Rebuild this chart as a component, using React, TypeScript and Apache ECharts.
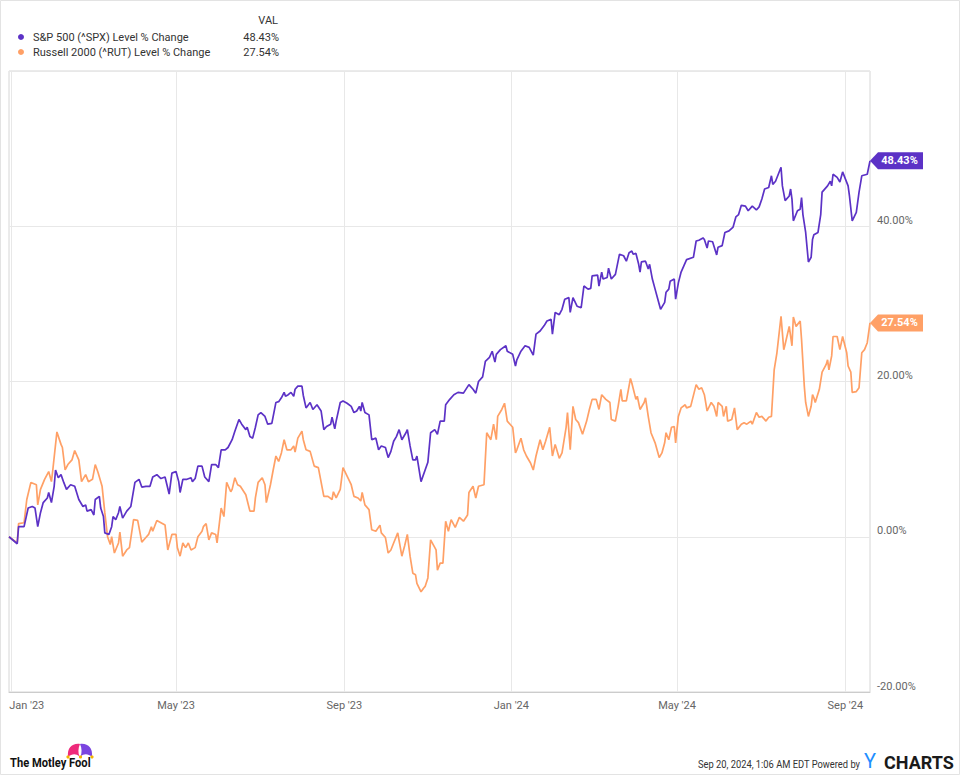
import React, { useEffect, useRef } from "react";
import * as echarts from "echarts";

const seriesNames = ["S&P 500 (^SPX) Level % Change", "Russell 2000 (^RUT) Level % Change"];
const seriesColors = ["#5c32c6", "#ffa066"];

const spx: [string, number][] = [
  ["2022-12-30", 0], ["2023-01-05", -0.9], ["2023-01-06", 1.3], ["2023-01-10", 1.3], ["2023-01-13", 3.7], ["2023-01-16", 3.9],
  ["2023-01-18", 3.7], ["2023-01-20", 1.3], ["2023-01-22", 3.1], ["2023-01-24", 4.4], ["2023-01-27", 5.0], ["2023-01-28", 5.7],
  ["2023-01-30", 4.4], ["2023-02-01", 6.5], ["2023-02-02", 8.6], ["2023-02-04", 7.6], ["2023-02-06", 8.0], ["2023-02-08", 7.0],
  ["2023-02-10", 6.1], ["2023-02-13", 6.7], ["2023-02-16", 6.5], ["2023-02-19", 4.8], ["2023-02-22", 3.9], ["2023-02-24", 4.1],
  ["2023-02-25", 3.3], ["2023-02-28", 3.5], ["2023-03-02", 2.8], ["2023-03-03", 4.8], ["2023-03-06", 5.2], ["2023-03-07", 3.7],
  ["2023-03-09", 2.6], ["2023-03-10", 0.5], ["2023-03-13", 0.3], ["2023-03-15", 1.3], ["2023-03-16", 2.6], ["2023-03-18", 2.2],
  ["2023-03-20", 3.1], ["2023-03-21", 3.9], ["2023-03-23", 2.4], ["2023-03-26", 3.3], ["2023-03-29", 3.9], ["2023-04-01", 7.0],
  ["2023-04-04", 7.4], ["2023-04-06", 6.4], ["2023-04-09", 6.5], ["2023-04-12", 6.5], ["2023-04-14", 7.7], ["2023-04-17", 8.0],
  ["2023-04-20", 7.5], ["2023-04-23", 7.7], ["2023-04-26", 5.5], ["2023-04-28", 8.2], ["2023-05-01", 8.4], ["2023-05-03", 7.1],
  ["2023-05-04", 5.7], ["2023-05-06", 7.4], ["2023-05-09", 7.4], ["2023-05-12", 7.6], ["2023-05-13", 7.1], ["2023-05-15", 7.5],
  ["2023-05-17", 9.1], ["2023-05-20", 9.1], ["2023-05-22", 7.7], ["2023-05-25", 7.1], ["2023-05-27", 9.3], ["2023-05-30", 9.3],
  ["2023-06-01", 8.9], ["2023-06-03", 11.2], ["2023-06-06", 11.2], ["2023-06-08", 11.5], ["2023-06-11", 12.5], ["2023-06-13", 13.6],
  ["2023-06-16", 15.1], ["2023-06-18", 14.5], ["2023-06-21", 13.8], ["2023-06-22", 14.1], ["2023-06-24", 12.9], ["2023-06-26", 12.7],
  ["2023-06-28", 14.1], ["2023-06-30", 15.7], ["2023-07-02", 16.0], ["2023-07-05", 15.5], ["2023-07-07", 14.5], ["2023-07-10", 14.6],
  ["2023-07-13", 17.3], ["2023-07-15", 17.4], ["2023-07-17", 17.9], ["2023-07-19", 18.6], ["2023-07-20", 18.1], ["2023-07-22", 18.3],
  ["2023-07-24", 18.6], ["2023-07-26", 18.1], ["2023-07-27", 19.0], ["2023-07-29", 19.4], ["2023-08-01", 19.4], ["2023-08-02", 18.2],
  ["2023-08-04", 16.6], ["2023-08-07", 17.3], ["2023-08-09", 16.4], ["2023-08-12", 17.0], ["2023-08-15", 16.2], ["2023-08-17", 13.8],
  ["2023-08-19", 14.2], ["2023-08-22", 14.5], ["2023-08-23", 15.4], ["2023-08-25", 13.9], ["2023-08-26", 14.9], ["2023-08-29", 17.3],
  ["2023-08-31", 17.5], ["2023-09-03", 17.2], ["2023-09-06", 16.8], ["2023-09-08", 16.0], ["2023-09-10", 16.2], ["2023-09-12", 16.8],
  ["2023-09-13", 16.2], ["2023-09-14", 17.3], ["2023-09-16", 16.0], ["2023-09-19", 15.7], ["2023-09-21", 12.5], ["2023-09-24", 12.7],
  ["2023-09-26", 11.2], ["2023-09-28", 11.7], ["2023-10-01", 11.5], ["2023-10-03", 10.2], ["2023-10-05", 11.0], ["2023-10-07", 12.3],
  ["2023-10-09", 12.9], ["2023-10-11", 13.8], ["2023-10-13", 12.5], ["2023-10-16", 13.4], ["2023-10-17", 13.8], ["2023-10-19", 11.7],
  ["2023-10-21", 9.9], ["2023-10-23", 9.9], ["2023-10-24", 10.4], ["2023-10-27", 7.1], ["2023-10-30", 8.6], ["2023-11-01", 9.6],
  ["2023-11-03", 13.4], ["2023-11-06", 13.8], ["2023-11-08", 13.2], ["2023-11-10", 14.9], ["2023-11-13", 14.9], ["2023-11-14", 17.0],
  ["2023-11-17", 17.7], ["2023-11-20", 18.3], ["2023-11-23", 18.6], ["2023-11-27", 18.5], ["2023-12-01", 19.6], ["2023-12-04", 19.0],
  ["2023-12-06", 18.5], ["2023-12-08", 20.0], ["2023-12-11", 20.6], ["2023-12-13", 22.6], ["2023-12-16", 23.1], ["2023-12-18", 23.9],
  ["2023-12-20", 22.5], ["2023-12-21", 23.5], ["2023-12-24", 24.1], ["2023-12-28", 24.6], ["2023-12-29", 23.9], ["2024-01-02", 23.5],
  ["2024-01-04", 22.0], ["2024-01-05", 22.8], ["2024-01-08", 23.9], ["2024-01-11", 24.6], ["2024-01-14", 24.4], ["2024-01-17", 23.4],
  ["2024-01-19", 26.1], ["2024-01-22", 26.5], ["2024-01-25", 27.2], ["2024-01-27", 27.8], ["2024-01-30", 28.0], ["2024-01-31", 26.1],
  ["2024-02-02", 28.9], ["2024-02-05", 28.6], ["2024-02-07", 29.3], ["2024-02-09", 30.6], ["2024-02-12", 30.8], ["2024-02-13", 28.9],
  ["2024-02-15", 30.8], ["2024-02-18", 29.7], ["2024-02-21", 29.5], ["2024-02-23", 32.3], ["2024-02-26", 31.9], ["2024-02-28", 32.0],
  ["2024-02-29", 33.6], ["2024-03-04", 33.7], ["2024-03-05", 32.3], ["2024-03-07", 34.1], ["2024-03-08", 33.2], ["2024-03-11", 33.4],
  ["2024-03-12", 34.6], ["2024-03-14", 33.2], ["2024-03-17", 33.8], ["2024-03-20", 36.4], ["2024-03-23", 36.2], ["2024-03-25", 35.5],
  ["2024-03-27", 36.6], ["2024-03-29", 36.8], ["2024-03-30", 36.4], ["2024-04-01", 36.5], ["2024-04-03", 35.1], ["2024-04-04", 34.1],
  ["2024-04-05", 35.4], ["2024-04-08", 35.5], ["2024-04-10", 34.5], ["2024-04-11", 35.1], ["2024-04-13", 33.2], ["2024-04-15", 31.9],
  ["2024-04-17", 30.6], ["2024-04-19", 29.3], ["2024-04-22", 30.2], ["2024-04-23", 31.5], ["2024-04-25", 31.9], ["2024-04-26", 32.9],
  ["2024-04-29", 33.2], ["2024-04-30", 30.6], ["2024-05-02", 32.7], ["2024-05-04", 34.1], ["2024-05-06", 34.9], ["2024-05-08", 35.7],
  ["2024-05-13", 36.0], ["2024-05-15", 38.1], ["2024-05-17", 38.2], ["2024-05-20", 38.5], ["2024-05-21", 38.3], ["2024-05-23", 37.2],
  ["2024-05-24", 38.1], ["2024-05-27", 38.0], ["2024-05-30", 36.3], ["2024-05-31", 37.3], ["2024-06-03", 37.5], ["2024-06-05", 39.2],
  ["2024-06-08", 39.4], ["2024-06-11", 39.9], ["2024-06-13", 41.2], ["2024-06-15", 41.5], ["2024-06-17", 42.7], ["2024-06-20", 42.6],
  ["2024-06-22", 42.0], ["2024-06-25", 42.6], ["2024-06-28", 42.1], ["2024-06-30", 42.5], ["2024-07-02", 43.5], ["2024-07-04", 44.8],
  ["2024-07-07", 45.0], ["2024-07-09", 46.5], ["2024-07-10", 45.4], ["2024-07-12", 45.8], ["2024-07-14", 46.7], ["2024-07-16", 47.6],
  ["2024-07-17", 45.2], ["2024-07-19", 43.3], ["2024-07-22", 43.9], ["2024-07-23", 44.8], ["2024-07-24", 43.5], ["2024-07-25", 40.7],
  ["2024-07-28", 42.0], ["2024-07-30", 42.2], ["2024-07-31", 43.7], ["2024-08-01", 41.5], ["2024-08-03", 39.2], ["2024-08-05", 35.4],
  ["2024-08-07", 36.0], ["2024-08-08", 38.3], ["2024-08-09", 38.9], ["2024-08-12", 39.2], ["2024-08-14", 41.5], ["2024-08-15", 44.4],
  ["2024-08-19", 45.2], ["2024-08-21", 45.8], ["2024-08-22", 45.2], ["2024-08-23", 46.7], ["2024-08-26", 46.3], ["2024-08-28", 45.7],
  ["2024-08-30", 47.0], ["2024-09-03", 45.2], ["2024-09-04", 43.9], ["2024-09-06", 40.7], ["2024-09-09", 41.8], ["2024-09-11", 44.4],
  ["2024-09-13", 46.5], ["2024-09-17", 46.7], ["2024-09-19", 48.43],
];

const rut: [string, number][] = [
  ["2022-12-30", 0], ["2023-01-05", -0.8], ["2023-01-06", 1.7], ["2023-01-10", 1.8], ["2023-01-12", 4.8], ["2023-01-15", 7.0],
  ["2023-01-19", 6.7], ["2023-01-20", 4.1], ["2023-01-22", 6.1], ["2023-01-25", 7.4], ["2023-01-28", 8.4], ["2023-01-30", 7.1],
  ["2023-01-31", 8.6], ["2023-02-03", 13.5], ["2023-02-06", 11.9], ["2023-02-07", 11.5], ["2023-02-09", 8.6], ["2023-02-11", 9.3],
  ["2023-02-14", 9.9], ["2023-02-16", 11.1], ["2023-02-19", 9.9], ["2023-02-21", 7.1], ["2023-02-24", 8.0], ["2023-02-26", 7.1],
  ["2023-03-01", 7.4], ["2023-03-03", 9.3], ["2023-03-05", 8.3], ["2023-03-08", 6.5], ["2023-03-10", 3.1], ["2023-03-12", 0.0],
  ["2023-03-14", -1.0], ["2023-03-15", 0.0], ["2023-03-17", -2.1], ["2023-03-20", -0.8], ["2023-03-21", 0.6], ["2023-03-23", -2.5],
  ["2023-03-26", -1.7], ["2023-03-28", -1.4], ["2023-03-31", 2.2], ["2023-04-03", 2.1], ["2023-04-06", -0.7], ["2023-04-09", -0.1],
  ["2023-04-11", 0.3], ["2023-04-13", 1.3], ["2023-04-14", 0.7], ["2023-04-17", 2.1], ["2023-04-20", 1.8], ["2023-04-23", 1.5],
  ["2023-04-25", -1.7], ["2023-04-28", 0.3], ["2023-05-01", 0.3], ["2023-05-02", -1.4], ["2023-05-04", -2.5], ["2023-05-06", -0.8],
  ["2023-05-08", -1.4], ["2023-05-10", -0.8], ["2023-05-12", -1.7], ["2023-05-15", -1.4], ["2023-05-17", 0.0], ["2023-05-20", 0.7],
  ["2023-05-21", 1.3], ["2023-05-23", 1.7], ["2023-05-25", -0.4], ["2023-05-27", 0.5], ["2023-05-30", 0.3], ["2023-05-31", -0.8],
  ["2023-06-03", 3.7], ["2023-06-05", 2.6], ["2023-06-07", 7.0], ["2023-06-10", 5.8], ["2023-06-11", 6.1], ["2023-06-13", 7.6],
  ["2023-06-15", 6.7], ["2023-06-17", 6.5], ["2023-06-21", 5.4], ["2023-06-24", 3.3], ["2023-06-27", 3.3], ["2023-06-28", 5.0],
  ["2023-06-30", 7.0], ["2023-07-03", 7.6], ["2023-07-05", 6.7], ["2023-07-06", 4.4], ["2023-07-09", 6.7], ["2023-07-11", 8.6],
  ["2023-07-13", 10.4], ["2023-07-15", 9.7], ["2023-07-17", 10.8], ["2023-07-19", 12.5], ["2023-07-21", 11.2], ["2023-07-24", 11.2],
  ["2023-07-26", 11.7], ["2023-07-27", 10.9], ["2023-07-29", 12.7], ["2023-08-01", 13.6], ["2023-08-02", 12.5], ["2023-08-04", 11.2],
  ["2023-08-07", 11.0], ["2023-08-10", 9.1], ["2023-08-13", 8.9], ["2023-08-17", 5.2], ["2023-08-20", 5.2], ["2023-08-23", 4.8],
  ["2023-08-24", 5.8], ["2023-08-26", 5.0], ["2023-08-29", 6.1], ["2023-08-31", 8.9], ["2023-09-03", 7.8], ["2023-09-06", 6.7],
  ["2023-09-08", 5.2], ["2023-09-11", 5.0], ["2023-09-13", 4.6], ["2023-09-14", 5.7], ["2023-09-16", 4.1], ["2023-09-19", 3.5],
  ["2023-09-21", 0.9], ["2023-09-24", 0.7], ["2023-09-27", 1.5], ["2023-09-28", 0.5], ["2023-10-01", -0.1], ["2023-10-03", -2.1],
  ["2023-10-05", -1.7], ["2023-10-07", -0.8], ["2023-10-10", 0.5], ["2023-10-13", -2.5], ["2023-10-15", -1.2], ["2023-10-17", 0.3],
  ["2023-10-19", -2.5], ["2023-10-21", -4.7], ["2023-10-23", -4.9], ["2023-10-24", -6.0], ["2023-10-27", -7.1], ["2023-10-29", -6.6],
  ["2023-10-30", -6.4], ["2023-11-01", -5.3], ["2023-11-03", -0.4], ["2023-11-07", -1.7], ["2023-11-08", -4.3], ["2023-11-10", -3.4],
  ["2023-11-12", -3.4], ["2023-11-14", 2.0], ["2023-11-16", 0.7], ["2023-11-18", 2.2], ["2023-11-21", 1.2], ["2023-11-24", 2.5],
  ["2023-11-27", 2.0], ["2023-11-30", 2.8], ["2023-12-01", 5.7], ["2023-12-04", 6.5], ["2023-12-06", 5.0], ["2023-12-08", 6.5],
  ["2023-12-12", 6.7], ["2023-12-14", 13.4], ["2023-12-17", 12.5], ["2023-12-19", 14.5], ["2023-12-21", 12.5], ["2023-12-22", 15.5],
  ["2023-12-25", 16.4], ["2023-12-27", 17.2], ["2023-12-29", 14.9], ["2024-01-02", 14.1], ["2024-01-04", 10.8], ["2024-01-05", 11.2],
  ["2024-01-08", 12.7], ["2024-01-10", 11.2], ["2024-01-12", 10.4], ["2024-01-15", 9.5], ["2024-01-17", 8.6], ["2024-01-19", 10.4],
  ["2024-01-22", 12.5], ["2024-01-24", 11.2], ["2024-01-26", 12.3], ["2024-01-29", 14.1], ["2024-01-31", 10.4], ["2024-02-02", 11.9],
  ["2024-02-05", 10.1], ["2024-02-07", 10.8], ["2024-02-10", 14.1], ["2024-02-11", 16.0], ["2024-02-13", 11.2], ["2024-02-15", 16.8],
  ["2024-02-17", 15.1], ["2024-02-19", 14.7], ["2024-02-22", 13.2], ["2024-02-25", 14.9], ["2024-02-27", 16.4], ["2024-02-29", 17.7],
  ["2024-03-03", 17.7], ["2024-03-05", 16.4], ["2024-03-07", 18.3], ["2024-03-10", 17.7], ["2024-03-13", 17.3], ["2024-03-14", 15.1],
  ["2024-03-17", 14.9], ["2024-03-19", 16.8], ["2024-03-21", 19.0], ["2024-03-22", 17.5], ["2024-03-25", 17.5], ["2024-03-28", 20.4],
  ["2024-03-29", 19.8], ["2024-04-01", 17.7], ["2024-04-02", 18.1], ["2024-04-04", 16.4], ["2024-04-07", 17.3], ["2024-04-08", 17.9],
  ["2024-04-10", 15.5], ["2024-04-12", 13.4], ["2024-04-15", 12.1], ["2024-04-18", 10.2], ["2024-04-20", 10.8], ["2024-04-22", 12.1],
  ["2024-04-23", 13.4], ["2024-04-25", 12.5], ["2024-04-27", 14.1], ["2024-04-29", 14.2], ["2024-04-30", 12.1], ["2024-05-02", 15.5],
  ["2024-05-04", 16.6], ["2024-05-07", 17.0], ["2024-05-08", 16.6], ["2024-05-11", 16.8], ["2024-05-15", 19.6], ["2024-05-17", 19.0],
  ["2024-05-19", 19.2], ["2024-05-21", 18.3], ["2024-05-23", 16.2], ["2024-05-26", 17.3], ["2024-05-28", 16.8], ["2024-05-30", 15.5],
  ["2024-05-31", 17.3], ["2024-06-03", 16.8], ["2024-06-04", 15.5], ["2024-06-06", 16.8], ["2024-06-07", 14.9], ["2024-06-10", 15.1],
  ["2024-06-12", 16.6], ["2024-06-14", 13.8], ["2024-06-17", 14.5], ["2024-06-19", 14.7], ["2024-06-21", 14.5], ["2024-06-24", 14.9],
  ["2024-06-25", 14.5], ["2024-06-28", 16.0], ["2024-06-30", 15.4], ["2024-07-02", 15.5], ["2024-07-05", 14.9], ["2024-07-07", 15.4],
  ["2024-07-09", 15.5], ["2024-07-11", 21.5], ["2024-07-13", 23.7], ["2024-07-16", 28.4], ["2024-07-18", 24.1], ["2024-07-19", 24.8],
  ["2024-07-22", 27.1], ["2024-07-24", 24.6], ["2024-07-25", 28.3], ["2024-07-27", 27.1], ["2024-07-30", 27.8], ["2024-07-31", 25.4],
  ["2024-08-02", 19.4], ["2024-08-03", 17.3], ["2024-08-05", 15.5], ["2024-08-07", 16.8], ["2024-08-08", 18.3], ["2024-08-09", 17.9],
  ["2024-08-10", 17.3], ["2024-08-13", 19.0], ["2024-08-15", 21.2], ["2024-08-18", 22.2], ["2024-08-19", 22.8], ["2024-08-20", 21.5],
  ["2024-08-22", 23.3], ["2024-08-23", 25.8], ["2024-08-26", 25.8], ["2024-08-28", 24.1], ["2024-08-30", 25.8], ["2024-09-02", 23.7],
  ["2024-09-03", 22.0], ["2024-09-05", 21.2], ["2024-09-06", 18.6], ["2024-09-09", 18.7], ["2024-09-11", 19.2], ["2024-09-13", 23.7],
  ["2024-09-15", 24.1], ["2024-09-17", 25.0], ["2024-09-19", 27.54],
];

const xTickDates = ["2023-01-01", "2023-05-01", "2023-09-01", "2024-01-01", "2024-05-01", "2024-09-01"];
const yTicks = [-20, 0, 20, 40, 60];
const monthNames = ["Jan", "Feb", "Mar", "Apr", "May", "Jun", "Jul", "Aug", "Sep", "Oct", "Nov", "Dec"];
const footerStamp = "Sep 20, 2024, 1:06 AM EDT Powered by";

const parseDate = (s: string) => {
  const [y, m, d] = s.split("-").map(Number);
  return Date.UTC(y, m - 1, d);
};
const pct = (v: number) => v.toFixed(2) + "%";

echarts.graphic.registerShape(
  "hatLeft",
  echarts.graphic.extendPath("M1,14 C0,5 5,0 13,1 C11,5 11,10 12.5,13.5 C9,10.5 5,10.5 1,14 Z", {})
);
echarts.graphic.registerShape(
  "hatRight",
  echarts.graphic.extendPath("M25,14 C26,5 21,0 13,1 C15,5 15,10 13.5,13.5 C17,10.5 21,10.5 25,14 Z", {})
);

export default function App() {
  const ref = useRef<HTMLDivElement>(null);
  useEffect(() => {
    if (!ref.current) return;
    const chart = echarts.init(ref.current, undefined, { renderer: "svg" });
    const datasets = [spx, rut].map((d) => d.map(([s, v]) => [parseDate(s), v] as [number, number]));
    const lastVals = datasets.map((d) => d[d.length - 1][1]);
    const tickValues = xTickDates.map(parseDate);
    const firstTick = tickValues[0];
    const font = "Roboto, 'Noto Sans', sans-serif";

    chart.setOption({
      animation: false,
      textStyle: { fontFamily: font },
      grid: {
        left: 9,
        right: 90,
        top: 71,
        bottom: 83,
        show: true,
        borderColor: "#d6d6d6",
        borderWidth: 1,
        containLabel: false,
      },
      legend: {
        orient: "vertical",
        left: 13,
        top: 25,
        icon: "circle",
        itemWidth: 14,
        itemHeight: 6,
        itemGap: 1,
        selectedMode: false,
        data: seriesNames,
        textStyle: {
          fontFamily: font,
          fontSize: 11,
          color: "#333",
          lineHeight: 14,
          rich: {
            n: { width: 206, fontSize: 11, color: "#333", fontFamily: font, lineHeight: 14 },
            v: { width: 40, align: "right", fontSize: 11, color: "#333", fontFamily: font, lineHeight: 14 },
          },
        },
        formatter: (name: string) => {
          const i = seriesNames.indexOf(name);
          return `{n|${name}}{v|${pct(lastVals[i])}}`;
        },
      },
      xAxis: {
        type: "value",
        min: "dataMin",
        max: "dataMax",
        axisLine: { show: true, onZero: false, lineStyle: { color: "#cccccc" } },
        axisTick: { show: false, customValues: tickValues },
        splitLine: { show: true, lineStyle: { color: "#e8e8e8", width: 1 } },
        axisLabel: {
          customValues: tickValues,
          color: "#666",
          fontSize: 11,
          margin: 8,
          fontFamily: font,
          formatter: (v: number) => {
            const d = new Date(v);
            const txt = `${monthNames[d.getUTCMonth()]} '${String(d.getUTCFullYear()).slice(2)}`;
            return v === firstTick ? `{first|${txt}}` : txt;
          },
          rich: { first: { padding: [0, 0, 0, 30], fontSize: 11, color: "#666", fontFamily: font } },
        },
      },
      yAxis: {
        type: "value",
        position: "right",
        min: yTicks[0],
        max: yTicks[yTicks.length - 1],
        interval: 20,
        axisLine: { show: false },
        axisTick: { show: false },
        splitLine: { show: true, lineStyle: { color: "#e8e8e8" } },
        axisLabel: {
          color: "#666",
          fontSize: 11,
          margin: 7,
          fontFamily: font,
          verticalAlign: "bottom",
          lineHeight: 12,
          formatter: (v: number) => (v === yTicks[yTicks.length - 1] ? "" : pct(v)),
        },
      },
      series: datasets.map((data, i) => ({
        name: seriesNames[i],
        type: "line",
        data,
        showSymbol: false,
        symbol: "circle",
        z: 3 - i,
        lineStyle: { color: seriesColors[i], width: 1.7 },
        itemStyle: { color: seriesColors[i] },
        markPoint: {
          silent: true,
          symbol: "path://M0,9 L8,0 L53,0 L53,18 L8,18 Z",
          symbolSize: [53, 17],
          symbolOffset: ["50%", 0],
          itemStyle: { color: seriesColors[i] },
          label: {
            show: true,
            position: "inside",
            offset: [3, 0],
            color: "#fff",
            fontWeight: "bold",
            fontSize: 11,
            fontFamily: font,
            formatter: () => pct(lastVals[i]),
          },
          data: [{ coord: data[data.length - 1] }],
        },
      })),
      graphic: [
        {
          type: "rect",
          silent: true,
          shape: { x: 0.5, y: 0.5, width: 959, height: 774 },
          style: { fill: "none", stroke: "#e3e3e3", lineWidth: 1 },
        },
        {
          type: "text",
          x: 278,
          y: 20,
          style: { text: "VAL", fill: "#333", font: `11px ${font}`, align: "right", verticalAlign: "middle" },
        },
        {
          type: "text",
          x: 10,
          y: 763,
          scaleX: 0.93,
          style: {
            text: "The Motley Fool",
            fill: "#111",
            font: `bold 12px ${font}`,
            align: "left",
            verticalAlign: "middle",
          },
        },
        { type: "hatLeft", x: 67, y: 743, style: { fill: "#ee2a7b" } },
        { type: "hatRight", x: 67, y: 743, style: { fill: "#7b45e0" } },
        { type: "circle", shape: { cx: 68, cy: 757, r: 1.6 }, style: { fill: "#f5b400" } },
        { type: "circle", shape: { cx: 80.5, cy: 757, r: 1.6 }, style: { fill: "#f5b400" } },
        { type: "circle", shape: { cx: 92, cy: 757, r: 1.6 }, style: { fill: "#f5b400" } },
        {
          type: "text",
          x: 860,
          y: 764,
          scaleX: 0.85,
          style: { text: footerStamp, fill: "#333", font: `11px ${font}`, align: "right", verticalAlign: "middle" },
        },
        {
          type: "text",
          x: 864,
          y: 761,
          style: { text: "Y", fill: "#1f8fff", font: `20px ${font}`, align: "left", verticalAlign: "middle" },
        },
        {
          type: "text",
          x: 884,
          y: 762,
          style: { text: "CHARTS", fill: "#1a1a1a", font: `bold 18px ${font}`, align: "left", verticalAlign: "middle" },
        },
      ],
    });
    return () => chart.dispose();
  }, []);
  return (
    <div
      ref={ref}
      style={{ position: "absolute", left: 0, top: 0, width: 960, height: 775, background: "#fff" }}
    />
  );
}
